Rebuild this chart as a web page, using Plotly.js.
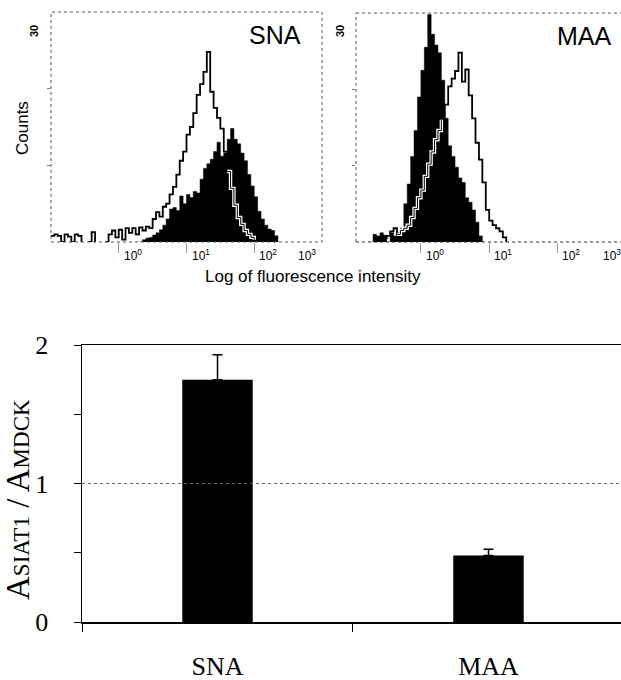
<!DOCTYPE html>
<html>
<head>
<meta charset="utf-8">
<script src="https://cdn.plot.ly/plotly-3.0.1.min.js"></script>
<style>html,body{margin:0;padding:0;background:#fff;}#chart{width:621px;height:680px;}</style>
</head>
<body>
<div id="chart"></div>
<script>
// ---------- Top-left panel: SNA (log10 channel positions and counts) ----------
const snaLog = [-1.00,-0.95,-0.90,-0.85,-0.80,-0.75,-0.70,-0.65,-0.60,-0.55,-0.50,-0.45,-0.40,-0.35,-0.30,-0.25,-0.20,-0.15,-0.10,-0.05,
  0.00,0.05,0.10,0.15,0.20,0.25,0.30,0.35,0.40,0.45,0.50,0.55,0.60,0.65,0.70,0.75,0.80,0.85,0.90,0.95,
  1.00,1.05,1.10,1.15,1.20,1.25,1.30,1.35,1.40,1.45,1.50,1.55,1.60,1.65,1.70,1.75,1.80,1.85,1.90,1.95,
  2.00,2.05,2.10,2.15,2.20,2.25,2.30,2.35,2.40];
const snaOutline = [0.8,1.0,0.8,0,1.0,0.7,0,1.0,0.8,0,0,0,1.3,0,0,0,0,1.0,1.5,0.6,
  1.6,0.3,1.8,1.2,1.8,1.0,1.9,1.5,2.0,1.8,3.0,3.9,3.3,4.6,5.0,6.2,7.2,8.8,10.6,11.8,
  14.0,15.0,16.8,19.2,20.6,22.2,24.8,19.6,17.5,16.2,14.8,11.8,9.2,7.0,4.8,3.2,2.3,1.5,1.0,0.6,
  0.3,0,0,0,0,0,0,0,0];
const snaFilled = [0,0,0,0,0,0,0,0,0,0,0,0,0,0,0,0,0,0,0,0,
  0,0,0,0,0,0,0,0.3,0.5,0.6,0.9,1.2,1.6,2.2,3.0,4.3,4.5,4.1,6.0,5.0,
  6.2,5.8,6.6,6.4,8.2,9.6,10.2,10.8,11.8,13.0,11.2,11.6,13.4,14.8,13.4,12.8,11.6,10.6,8.8,7.3,
  5.9,4.0,3.0,2.2,1.7,1.5,0.8,0,0];

// ---------- Top-right panel: MAA ----------
const maaLog = [-0.95,-0.90,-0.85,-0.80,-0.75,-0.70,-0.65,-0.60,-0.55,-0.50,-0.45,-0.40,-0.35,-0.30,-0.25,-0.20,-0.15,-0.10,-0.05,
  0.00,0.05,0.10,0.15,0.20,0.25,0.30,0.35,0.40,0.45,0.50,0.55,0.60,0.65,0.70,0.75,0.80,0.85,0.90,0.95,
  1.00,1.05,1.10,1.15,1.20,1.25,1.30];
const maaOutline = [0,0,0,0,0,0,0,0,0.5,0.8,1.4,1.8,1.0,1.5,1.8,2.2,3.2,4.4,5.8,
  6.8,8.6,10.2,11.8,13.4,14.6,16.0,18.0,20.4,21.4,22.4,24.8,21.0,22.6,19.2,16.2,13.0,10.8,7.8,4.2,
  2.8,2.2,1.8,1.4,0.6,0,0];
const maaFilled = [0,0,0,0,0,1.0,0.8,1.2,0.9,0,1.2,0.8,1.3,1.8,5.0,7.6,11.2,14.6,19.0,
  22.5,25.5,29.8,27.2,25.8,24.8,21.2,16.2,12.6,11.2,9.8,8.4,7.8,5.8,5.2,4.2,2.6,0.8,0,0,
  0,0,0,0,0,0,0];

// ---------- Bottom bar chart ----------
const barCats = ['SNA','MAA'];
const barVals = [1.75, 0.48];
const barErrUp = [0.18, 0.045];
const barTickVals = [0, 0.5, 1, 1.5, 2];
const barTickText = ['0', '', '1', '', '2'];
const decadeLabels = ['10<sup>0</sup>','10<sup>1</sup>','10<sup>2</sup>','10<sup>3</sup>'];

// white core of the overlay line: only where it runs inside the filled histogram
function core(outline, filled){
  return outline.map((v,i) => (v > 0 && v < filled[i]) ? v : null);
}
// hide long runs of zero so the outline does not paint the baseline
function trimZeros(arr){
  return arr.map((v,i) => (v === 0 && (i === 0 || arr[i-1] === 0) && (i === arr.length-1 || arr[i+1] === 0)) ? null : v);
}

const W = 621, H = 680;
const px = v => v / W;
const py = v => 1 - v / H;

const SANS = 'Liberation Sans, Arial, sans-serif';
const SERIF = 'Liberation Serif, Times New Roman, serif';

function histTraces(xs, outline, filled, xa, ya){
  const wc = core(outline, filled);
  return [
    {x: xs, y: trimZeros(filled), xaxis: xa, yaxis: ya, type: 'scatter', mode: 'lines', connectgaps: false,
     line: {shape: 'hv', color: '#000', width: 0.5}, fill: 'tozeroy', fillcolor: '#000', hoverinfo: 'skip'},
    {x: xs, y: trimZeros(outline), xaxis: xa, yaxis: ya, type: 'scatter', mode: 'lines', connectgaps: false,
     line: {shape: 'hv', color: '#000', width: 1.8}, hoverinfo: 'skip'},
    {x: xs, y: wc, xaxis: xa, yaxis: ya, type: 'scatter', mode: 'lines', connectgaps: false,
     line: {shape: 'hv', color: '#fff', width: 3.4}, hoverinfo: 'skip'},
    {x: xs, y: wc, xaxis: xa, yaxis: ya, type: 'scatter', mode: 'lines', connectgaps: false,
     line: {shape: 'hv', color: '#000', width: 1}, hoverinfo: 'skip'}
  ];
}

const traces = [].concat(
  histTraces(snaLog, snaOutline, snaFilled, 'x', 'y'),
  histTraces(maaLog, maaOutline, maaFilled, 'x2', 'y2'),
  [{
    x: barCats, y: barVals, type: 'bar', xaxis: 'x3', yaxis: 'y3', width: 0.26,
    marker: {color: '#000', line: {width: 0}},
    error_y: {type: 'data', symmetric: false, array: barErrUp, arrayminus: [0,0],
              color: '#000', thickness: 1.5, width: 5},
    hoverinfo: 'skip'
  }]
);

const histX = {
  showgrid: false, zeroline: false, showticklabels: false, showline: false,
  ticks: 'outside', tickvals: [0,1,2], ticklen: 10, tickwidth: 1, tickcolor: '#999', fixedrange: true
};
const histY = {
  range: [0, 30], showgrid: false, zeroline: false, showticklabels: false, showline: false,
  ticks: 'outside', tickvals: [10, 20], ticklen: 3, tickwidth: 1, tickcolor: '#777', fixedrange: true
};

function ann(o){
  return Object.assign({xref: 'paper', yref: 'paper', xanchor: 'center', yanchor: 'middle', showarrow: false}, o);
}

const annotations = [];
// decade labels, left panel
[0,1,2].forEach(d => annotations.push(ann({xref: 'x', x: d, y: py(245), xanchor: 'left', yanchor: 'top',
  xshift: 3, text: decadeLabels[d], font: {family: SANS, size: 12, color: '#000'}})));
annotations.push(ann({x: px(318), y: py(245), xanchor: 'right', yanchor: 'top',
  text: decadeLabels[3], font: {family: SANS, size: 12, color: '#000'}}));
// decade labels, right panel
[0,1,2].forEach(d => annotations.push(ann({xref: 'x2', x: d, y: py(245), xanchor: 'left', yanchor: 'top',
  xshift: 3, text: decadeLabels[d], font: {family: SANS, size: 12, color: '#000'}})));
annotations.push(ann({x: px(623), y: py(245), xanchor: 'right', yanchor: 'top',
  text: decadeLabels[3], font: {family: SANS, size: 12, color: '#000'}}));
// "30" labels
annotations.push(ann({x: px(34), y: py(31), text: '<b>30</b>', textangle: -90,
  font: {family: SANS, size: 11, color: '#000'}}));
annotations.push(ann({x: px(340), y: py(31), text: '<b>30</b>', textangle: -90,
  font: {family: SANS, size: 11, color: '#000'}}));
// Counts
annotations.push(ann({x: px(22), y: py(128), text: 'Counts', textangle: -90,
  font: {family: SANS, size: 17, color: '#000'}}));
// panel names
annotations.push(ann({x: px(303), y: py(35), xanchor: 'right', text: 'SNA',
  font: {family: SANS, size: 25, color: '#000'}}));
annotations.push(ann({x: px(614), y: py(36), xanchor: 'right', text: 'MAA',
  font: {family: SANS, size: 25, color: '#000'}}));
// x title
annotations.push(ann({x: px(313), y: py(276), text: 'Log of fluorescence intensity',
  font: {family: SANS, size: 17, color: '#000'}}));
// bottom y title
annotations.push(ann({x: px(18), y: py(500), textangle: -90,
  text: 'A<span style="font-size:23px">SIAT1</span> / A<span style="font-size:23px">MDCK</span>',
  font: {family: SERIF, size: 33, color: '#000'}}));

const shapes = [
  {type: 'rect', xref: 'x domain', yref: 'y domain', x0: 0, x1: 1, y0: 0, y1: 1,
   line: {color: '#555', width: 1, dash: 'dot'}},
  {type: 'line', xref: 'x2 domain', yref: 'y2 domain', x0: 0, x1: 1, y0: 1, y1: 1, line: {color: '#555', width: 1, dash: 'dot'}},
  {type: 'line', xref: 'x2 domain', yref: 'y2 domain', x0: 0, x1: 0, y0: 0, y1: 1, line: {color: '#555', width: 1, dash: 'dot'}},
  {type: 'line', xref: 'x2 domain', yref: 'y2 domain', x0: 0, x1: 1, y0: 0, y1: 0, line: {color: '#333', width: 1, dash: 'dot'}},
  {type: 'line', xref: 'x3 domain', yref: 'y3', x0: 0, x1: 1, y0: 1, y1: 1, line: {color: '#666', width: 1, dash: 'dot'}}
];

const layout = {
  width: W, height: H, margin: {l: 0, r: 0, t: 0, b: 0},
  paper_bgcolor: '#fff', plot_bgcolor: 'rgba(0,0,0,0)', showlegend: false,
  xaxis: Object.assign({}, histX, {domain: [px(51), px(322)], range: [-1, 3], anchor: 'y'}),
  yaxis: Object.assign({}, histY, {domain: [py(242), py(12)], anchor: 'x'}),
  xaxis2: Object.assign({}, histX, {domain: [px(356), 1], range: [-0.95, 2.93], anchor: 'y2'}),
  yaxis2: Object.assign({}, histY, {domain: [py(242), py(13)], anchor: 'x2'}),
  xaxis3: {
    domain: [px(82), 1], anchor: 'y3', type: 'category', range: [-0.5, 1.489],
    showgrid: false, zeroline: false, showline: true, linecolor: '#000', linewidth: 1.5, mirror: true,
    ticks: 'outside', tickson: 'boundaries', ticklen: 8, tickwidth: 1, tickcolor: '#000',
    tickfont: {family: SERIF, size: 26, color: '#000'}, ticklabelstandoff: 20, fixedrange: true
  },
  yaxis3: {
    domain: [py(622), py(345)], anchor: 'x3', range: [0, 2],
    showgrid: false, zeroline: false, showline: true, linecolor: '#000', linewidth: 1.5,
    ticks: 'outside', tickvals: barTickVals, ticktext: barTickText, ticklen: 7, tickwidth: 1, tickcolor: '#000',
    tickfont: {family: SERIF, size: 26, color: '#000'}, ticklabelstandoff: 20, fixedrange: true
  },
  annotations: annotations,
  shapes: shapes
};

Plotly.newPlot('chart', traces, layout, {displayModeBar: false, staticPlot: true});
</script>
</body>
</html>
